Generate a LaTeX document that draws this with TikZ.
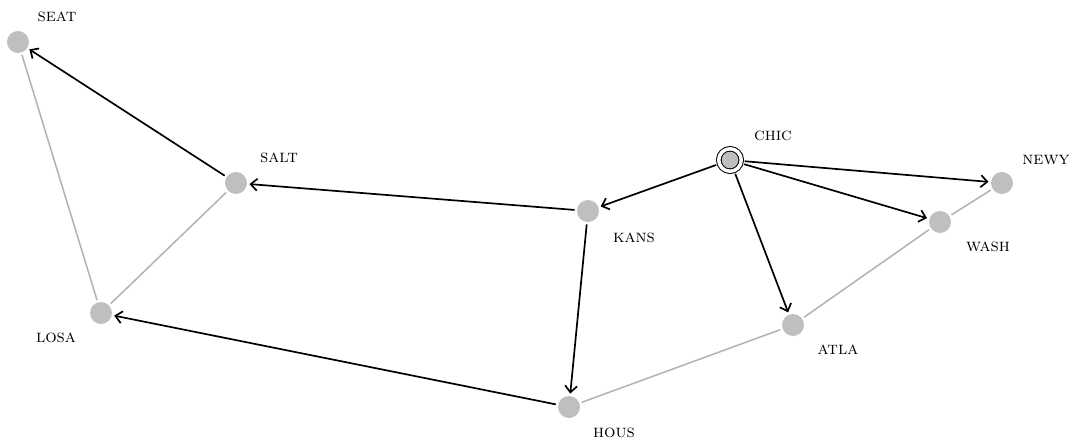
\documentclass[tikz,border=0pt]{standalone}
\usetikzlibrary{arrows.meta}
\definecolor{nodegray}{RGB}{191,191,191}
\definecolor{edgegray}{RGB}{178,178,178}
\tikzset{
  city/.style={circle,fill=nodegray,minimum size=22pt,inner sep=0pt,outer sep=2.5pt},
  hub/.style={circle,draw=black,fill=nodegray,line width=1pt,minimum size=22.5pt,inner sep=0pt,
    double=white,double distance=3.5pt,outer sep=3.5pt},
  lbl/.style={font=\fontsize{18}{20}\selectfont\scshape,inner sep=0pt},
  road/.style={draw=edgegray,line width=1.5pt},
  flow/.style={draw=black,line width=1.7pt,-{Straight Barb[length=6.5pt,width=12pt,line width=1.7pt]}},
}
\begin{document}
\begin{tikzpicture}[x=1pt,y=-1pt]
\useasboundingbox (0,0) rectangle (1085,439);
\node[city] (seat) at (18,42) {};
\node[city] (salt) at (236,183) {};
\node[city] (losa) at (101,313) {};
\node[city] (kans) at (588,211) {};
\node[city] (hous) at (569,407) {};
\node[hub]  (chic) at (730,160) {};
\node[city] (newy) at (1002,183) {};
\node[city] (wash) at (940,222) {};
\node[city] (atla) at (793,325) {};
\node[lbl] (lseat) at (57,17) {seat};
\node[lbl] (lsalt) at (279,158) {salt};
\node[lbl] (llosa) at (56,338) {losa};
\node[lbl] (lkans) at (634,238) {kans};
\node[lbl] (lhous) at (614,433) {hous};
\node[lbl] (lchic) at (773,136) {chic};
\node[lbl] (lnewy) at (1046,160) {newy};
\node[lbl] (lwash) at (988,247) {wash};
\node[lbl] (latla) at (838,350) {atla};
\draw[road] (seat) -- (losa);
\draw[road] (salt) -- (losa);
\draw[road] (hous) -- (atla);
\draw[road] (atla) -- (wash);
\draw[road] (wash) -- (newy);
\draw[flow] (salt) -- (seat);
\draw[flow] (kans) -- (salt);
\draw[flow] (kans) -- (hous);
\draw[flow] (hous) -- (losa);
\draw[flow] (chic) -- (kans);
\draw[flow] (chic) -- (atla);
\draw[flow] (chic) -- (wash);
\draw[flow] (chic) -- (newy);
\end{tikzpicture}
\end{document}
